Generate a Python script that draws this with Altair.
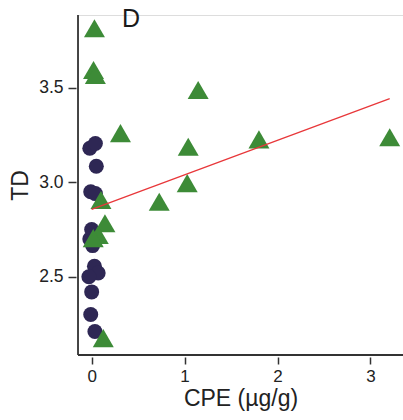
import altair as alt
import pandas as pd

# circles (group 1)
c_x = [-0.02, 0.04, 0.05, -0.01, 0.04, 0.0, -0.02, 0.01, 0.03, 0.07, -0.03, 0.0, -0.01, 0.035]
c_y = [3.18, 3.205, 3.085, 2.95, 2.94, 2.75, 2.70, 2.665, 2.555, 2.52, 2.50, 2.42, 2.30, 2.21]

# triangles (group 2)
t_x = [0.03, 0.02, 0.04, 0.31, 1.146, 1.039, 1.80, 3.207, 1.028, 0.727, 0.10, 0.143, 0.071, 0.017, 0.125]
t_y = [3.815, 3.594, 3.568, 3.26, 3.488, 3.188, 3.227, 3.238, 2.995, 2.897, 2.906, 2.783, 2.721, 2.704, 2.175]

# fitted line endpoints
l_x = [0.0, 3.207]
l_y = [2.857, 3.442]

x_ticks = [0, 1, 2, 3]
y_ticks = [2.5, 3.0, 3.5]

circ = pd.DataFrame({"x": c_x, "y": c_y})
tri = pd.DataFrame({"x": t_x, "y": t_y})
line = pd.DataFrame({"x": l_x, "y": l_y})

FONT = "Liberation Sans"
W, H = 325, 340

xs = alt.Scale(domain=[-0.147, 3.35], nice=False, zero=False)
ys = alt.Scale(domain=[2.086, 3.885], nice=False, zero=False)

xax = alt.Axis(values=x_ticks, format="d", domain=False, grid=False, offset=2,
               tickSize=7, tickColor="#333333", tickWidth=1.5,
               labelFont=FONT, labelFontSize=17, labelColor="#222222", labelPadding=4,
               title="CPE (µg/g)", titleFont=FONT, titleFontSize=23, titleFontWeight="normal",
               titleColor="#222222", titlePadding=3)
yax = alt.Axis(values=y_ticks, format=".1f", domain=False, grid=False, offset=2,
               tickSize=8, tickColor="#333333", tickWidth=1.5,
               labelFont=FONT, labelFontSize=17.5, labelColor="#222222", labelPadding=5,
               title="TD", titleFont=FONT, titleFontSize=23, titleFontWeight="normal",
               titleColor="#222222", titlePadding=6)

pts_c = alt.Chart(circ).mark_point(shape="circle", filled=True, size=225, opacity=1,
                                   color="#2e2754").encode(
    x=alt.X("x:Q", scale=xs, axis=xax),
    y=alt.Y("y:Q", scale=ys, axis=yax),
)
pts_t = alt.Chart(tri).mark_point(shape="triangle-up", filled=True, size=440, opacity=1,
                                  color="#3d8b37").encode(
    x=alt.X("x:Q", scale=xs),
    y=alt.Y("y:Q", scale=ys),
)
fit = alt.Chart(line).mark_line(color="#e8373a", strokeWidth=1.3).encode(
    x=alt.X("x:Q", scale=xs),
    y=alt.Y("y:Q", scale=ys),
)
ydom = alt.Chart(pd.DataFrame({"a": [0]})).mark_rule(color="#333333", strokeWidth=1.8).encode(
    x=alt.value(0), y=alt.value(0), y2=alt.value(H))
xdom = alt.Chart(pd.DataFrame({"a": [0]})).mark_rule(color="#333333", strokeWidth=1.8).encode(
    x=alt.value(0), x2=alt.value(W), y=alt.value(H))
lab = alt.Chart(pd.DataFrame({"t": ["D"]})).mark_text(
    font=FONT, fontSize=25, align="left", baseline="alphabetic", color="#1a1a1a").encode(
    text="t:N", x=alt.value(44), y=alt.value(12))

chart = alt.layer(pts_c, pts_t, fit, ydom, xdom, lab).properties(
    width=W, height=H,
    autosize=alt.AutoSizeParams(type="none"),
    padding={"left": 78, "top": 15, "right": 0, "bottom": 65},
).configure_view(stroke=None).configure(background="white")

chart.save("out.html", embed_options={"renderer": "svg", "actions": False})
